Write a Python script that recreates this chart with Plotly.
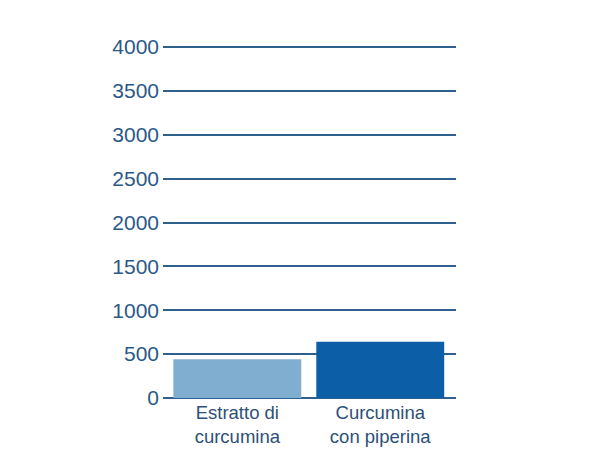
import plotly.graph_objects as go

categories = ["Estratto di<br>curcumina", "Curcumina<br>con piperina"]
values = [440, 640]
colors = ["#80aed0", "#0c5fa6"]
y_ticks = [0, 500, 1000, 1500, 2000, 2500, 3000, 3500, 4000]

fig = go.Figure(
    go.Bar(
        x=categories,
        y=values,
        marker=dict(color=colors, line=dict(width=0)),
        width=0.895,
        hoverinfo="skip",
    )
)

fig.update_layout(
    width=600,
    height=454,
    margin=dict(l=155, r=152, t=38, b=63),
    paper_bgcolor="white",
    plot_bgcolor="white",
    showlegend=False,
    font=dict(family="Liberation Sans, Arial, sans-serif"),
    xaxis=dict(
        range=[-0.52, 1.53],
        showgrid=False,
        zeroline=False,
        showline=False,
        ticks="",
        tickfont=dict(size=18.5, color="#2d5078"),
    ),
    yaxis=dict(
        range=[-12, 4012],
        tickvals=y_ticks,
        ticktext=[str(v) for v in y_ticks],
        showgrid=True,
        gridcolor="#2f5f8f",
        gridwidth=1.6,
        zeroline=False,
        showline=False,
        ticks="",
        ticklabelstandoff=3,
        tickfont=dict(size=21, color="#2a5987"),
    ),
)

fig.write_html("out.html")
